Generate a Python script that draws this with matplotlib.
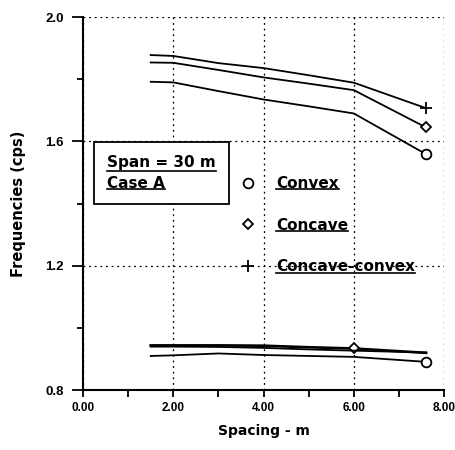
import matplotlib
matplotlib.use("Agg")
import matplotlib.pyplot as plt
from matplotlib.lines import Line2D

plt.rcParams['font.family'] = ['Liberation Sans', 'DejaVu Sans']

spacing = [1.5, 2.0, 3.0, 4.0, 5.0, 6.0, 7.6]
# upper mode
convex_hi = [1.792, 1.790, 1.762, 1.735, 1.713, 1.690, 1.559]
concave_hi = [1.854, 1.853, 1.830, 1.806, 1.786, 1.765, 1.645]
ccx_hi = [1.878, 1.875, 1.852, 1.836, 1.813, 1.789, 1.707]
# lower mode
convex_lo = [0.910, 0.912, 0.918, 0.913, 0.910, 0.907, 0.891]
concave_lo = [0.944, 0.944, 0.944, 0.943, 0.938, 0.934, 0.920]
ccx_lo = [0.940, 0.940, 0.939, 0.936, 0.931, 0.927, 0.921]

labels = ["Convex", "Concave", "Concave-convex"]
xticks = [0, 2, 4, 6, 8]
xticklabels = ["0.00", "2.00", "4.00", "6.00", "8.00"]
yticks = [0.8, 1.2, 1.6, 2.0]
yticklabels = ["0.8", "1.2", "1.6", "2.0"]

fig = plt.figure(figsize=(4.56, 4.5), dpi=100)
ax = fig.add_axes([0.182, 0.133, 0.792, 0.829])

lw = 1.3
mk = dict(color='black', mfc='white', mec='black', mew=1.3)
ax.plot(spacing, convex_hi, marker='o', ms=7, markevery=[6], lw=lw, **mk)
ax.plot(spacing, concave_hi, marker='D', ms=5, markevery=[6], lw=lw, **mk)
ax.plot(spacing, ccx_hi, marker='+', ms=9, markevery=[6], lw=lw, **mk)
ax.plot(spacing, convex_lo, marker='o', ms=7, markevery=[6], lw=lw, **mk)
ax.plot(spacing, concave_lo, marker='D', ms=5, markevery=[5], lw=lw + 0.6, **mk)
ax.plot(spacing, ccx_lo, lw=lw, color='black')

ax.set_xlim(0, 8)
ax.set_ylim(0.8, 2.0)
ax.set_xticks(xticks)
ax.set_xticklabels(xticklabels)
ax.set_xticks([1, 3, 5, 7], minor=True)
ax.set_yticks(yticks)
ax.set_yticklabels(yticklabels)
ax.set_yticks([1.0, 1.4, 1.8], minor=True)
for s in ['top', 'right']:
    ax.spines[s].set_visible(False)
ax.spines['left'].set_linewidth(1.5)
ax.spines['bottom'].set_linewidth(1.5)
ax.grid(True, which='major', ls=(0, (1.5, 3)), color='black', lw=0.9)
ax.tick_params(axis='y', which='major', direction='out', length=8, width=1.3,
               labelsize=9.5, pad=6)
ax.tick_params(axis='y', which='minor', direction='out', length=4, width=1.3)
ax.tick_params(axis='x', which='both', direction='out', length=5, width=1.3, labelsize=8.5)
for t in ax.get_xticklabels() + ax.get_yticklabels():
    t.set_fontweight('bold')

ax.set_xlabel("Spacing - m", fontsize=10, fontweight='bold', labelpad=7,
              family='DejaVu Sans')
ax.set_ylabel("Frequencies (cps)", fontsize=10.5, fontweight='bold', labelpad=14,
              family='DejaVu Sans')

big = 11
handles = [
    Line2D([], [], marker='o', ls='none', ms=7, **mk),
    Line2D([], [], marker='D', ls='none', ms=5, **mk),
    Line2D([], [], marker='+', ls='none', ms=9, **mk),
]
leg = ax.legend(handles, labels, loc='upper left', bbox_to_anchor=(0.435, 0.574),
                frameon=False, handlelength=1.0, handletextpad=1.35, borderpad=0,
                borderaxespad=0, labelspacing=1.75,
                prop={'size': big, 'weight': 'bold', 'family': 'DejaVu Sans'})

box = ax.text(0.066, 0.63, "Span = 30 m\nCase A", transform=ax.transAxes,
              fontsize=big, fontweight='bold', va='top', ha='left', linespacing=1.5,
              family='DejaVu Sans',
              bbox=dict(boxstyle='square,pad=0.85', fc='white', ec='black', lw=1.3))

fig.canvas.draw()
r = fig.canvas.get_renderer()
inv = fig.transFigure.inverted()

def underline(txt_artist, lines):
    bb = txt_artist.get_window_extent(r)
    n = len(lines)
    h = bb.height / n
    for i, line in enumerate(lines):
        t = fig.text(0, 0, line, fontsize=txt_artist.get_fontsize(),
                     fontweight='bold', family='DejaVu Sans')
        w = t.get_window_extent(r).width
        t.remove()
        y = bb.y1 - (i + 1) * h + h * 0.12
        (x0, y0) = inv.transform((bb.x0, y))
        (x1, _) = inv.transform((bb.x0 + w, y))
        fig.add_artist(Line2D([x0, x1], [y0, y0], color='black', lw=1.2,
                              transform=fig.transFigure))

for t in leg.get_texts():
    underline(t, [t.get_text()])
underline(box, ["Span = 30 m", "Case A"])

fig.savefig("out.png", dpi=100)
